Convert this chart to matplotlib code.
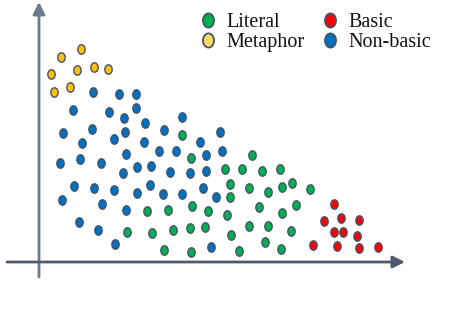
import numpy as np
import matplotlib
matplotlib.use("Agg")
import matplotlib.pyplot as plt
from matplotlib.path import Path
from matplotlib.patches import FancyArrowPatch

# ---- data (x, y in arbitrary chart units) ----
metaphor_x = [42, 22, 12, 38, 55, 69, 15, 31]
metaphor_y = [213, 205, 188, 192, 195, 193, 170, 175]

nonbasic_x = [54, 80, 97, 34, 70, 85, 97, 106, 143, 125,
              24, 53, 43, 75, 86, 105, 161, 181, 120, 137, 167, 183,
              87, 21, 41, 62, 84, 98, 112, 131, 151, 167,
              35, 55, 75, 98, 111, 124, 143, 164, 177,
              23, 63, 87, 40, 59, 76, 172]
nonbasic_y = [170, 168, 168, 152, 150, 144, 154, 139, 145, 132,
              129, 133, 119, 123, 130, 120, 120, 130, 111, 111, 107, 111,
              108, 99, 103, 99, 89, 95, 96, 90, 89, 91,
              76, 74, 72, 69, 77, 68, 68, 74, 65,
              62, 58, 52, 40, 32, 18, 15]

literal_x = [143, 152, 213, 186, 203, 223, 241,
             191, 210, 229, 243, 253, 271, 191,
             108, 129, 153, 169, 188, 220, 243, 257,
             88, 113, 134, 151, 166, 192, 210, 229, 252,
             125, 152, 200, 226, 242]
literal_y = [127, 104, 107, 93, 93, 91, 93,
             78, 74, 70, 75, 79, 73, 65,
             51, 52, 56, 51, 47, 55, 49, 57,
             30, 29, 32, 34, 35, 27, 36, 36, 31,
             12, 10, 11, 20, 13]

basic_x = [295, 285, 302, 320, 295, 304, 318, 274, 298, 320, 339]
basic_y = [58, 41, 44, 42, 30, 30, 26, 17, 16, 14, 15]

legend_labels = ["Literal", "Metaphor", "Basic", "Non-basic"]

# ---- style ----
C_GREEN = "#00B050"
C_YELLOW = "#FFC000"
C_YELLOW_LEG = "#FFD966"
C_RED = "#FF0000"
C_BLUE = "#0070C0"
EDGE = "#44546A"
AXIS = "#6B7B8E"

W, H = 458, 310
fig = plt.figure(figsize=(W / 100, H / 100), dpi=100)
ax = fig.add_axes([0, 0, 1, 1])
ax.set_xlim(-39, W - 39)
ax.set_ylim(262 - H, 262)
ax.axis("off")

circ = Path.unit_circle()
ell = Path(circ.vertices * np.array([0.78, 1.0]), circ.codes)

sty = dict(marker=ell, s=46, linewidths=1.0, edgecolors=EDGE, zorder=3)
ax.scatter(metaphor_x, metaphor_y, c=C_YELLOW, **sty)
ax.scatter(nonbasic_x, nonbasic_y, c=C_BLUE, **sty)
ax.scatter(literal_x, literal_y, c=C_GREEN, **sty)
ax.scatter(basic_x, basic_y, c=C_RED, **sty)

# axes arrows
ax.add_patch(FancyArrowPatch((0, -15), (0, 260), arrowstyle="-|>,head_length=0.72,head_width=0.36",
                             mutation_scale=10, color=AXIS, lw=2.0, shrinkA=0, shrinkB=0, zorder=2))
ax.add_patch(FancyArrowPatch((-32, 0), (366, 0), arrowstyle="-|>,head_length=0.72,head_width=0.36",
                             mutation_scale=10, color="#4E5B6E", lw=2.0, shrinkA=0, shrinkB=0, zorder=2))

# legend (manual placement in pixel coords)
leg_items = [
    (legend_labels[0], C_GREEN, 208, 20),
    (legend_labels[1], C_YELLOW_LEG, 208, 40),
    (legend_labels[2], C_RED, 330, 20),
    (legend_labels[3], C_BLUE, 330, 40),
]
for lab, col, px, py in leg_items:
    fig.add_artist(plt.Line2D([px / W], [1 - py / H], marker=ell, markersize=10.2,
                              markerfacecolor=col, markeredgecolor=EDGE, markeredgewidth=1.3,
                              linestyle="none", transform=fig.transFigure))
    fig.text((px + 18) / W, 1 - (py + 7) / H, lab, family="Liberation Serif",
             fontsize=14.5, color="#111111", va="baseline", ha="left")

fig.savefig("out.png", dpi=100)
